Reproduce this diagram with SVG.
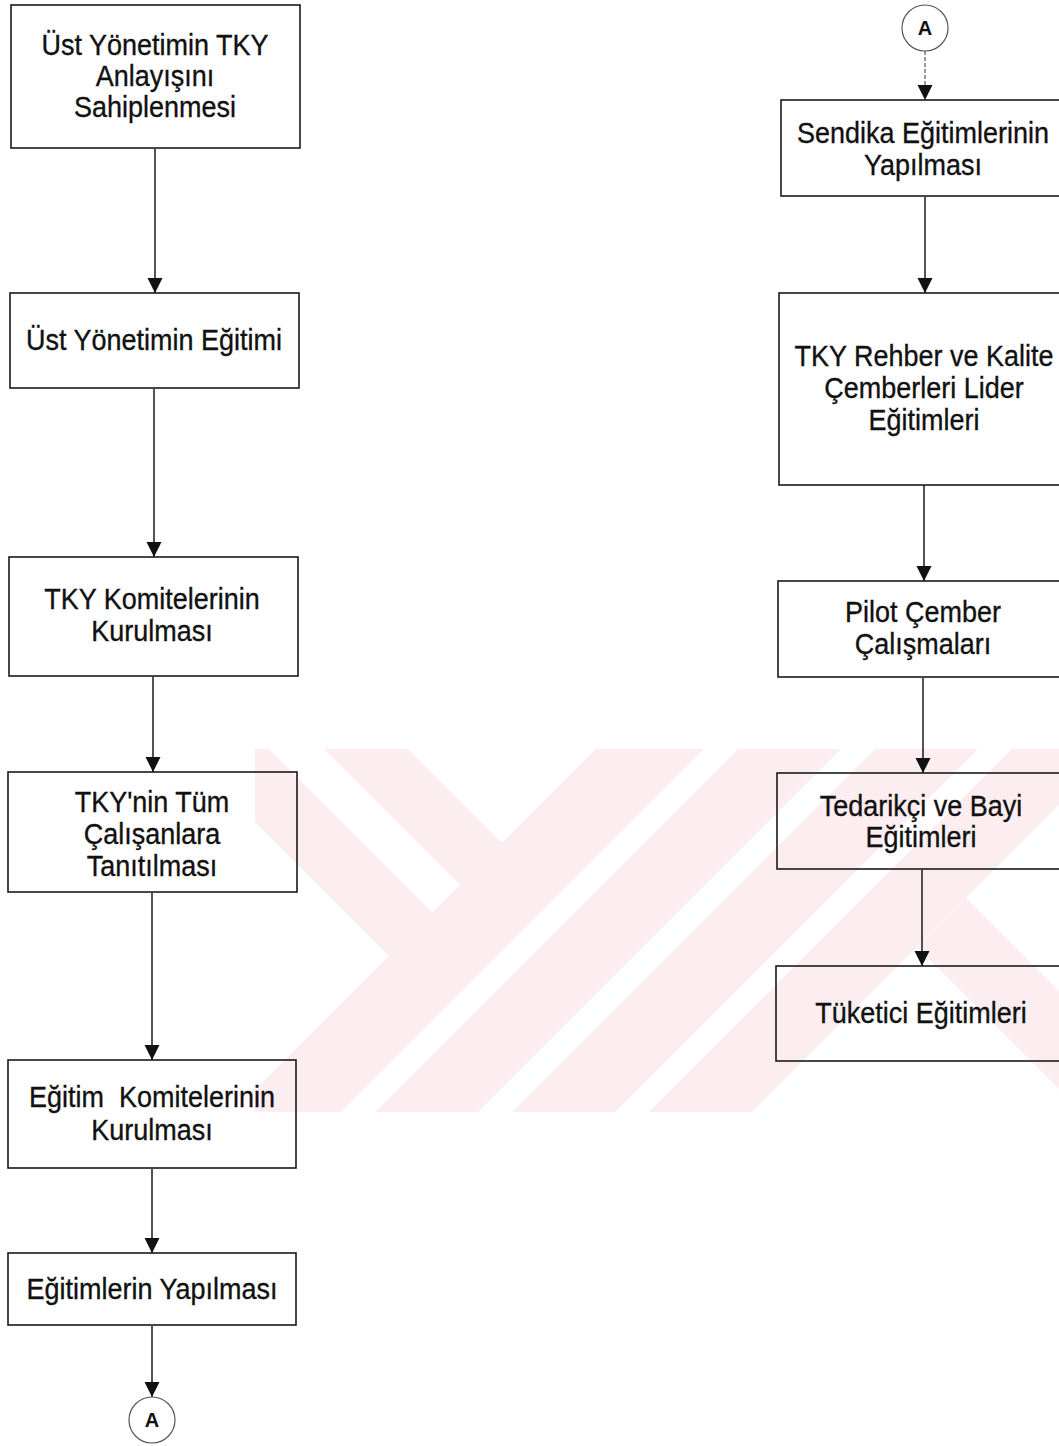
<svg xmlns="http://www.w3.org/2000/svg" width="1059" height="1446" viewBox="0 0 1059 1446">
  <defs>
    <style>
      .box { fill: none; stroke: #1a1a1a; stroke-width: 1.6; }
      .lbl { font-family: "Liberation Sans", Arial, sans-serif; font-size: 29px; fill: #111; stroke: #111; stroke-width: 0.35; text-anchor: middle; }
      .conn { font-family: "Liberation Sans", Arial, sans-serif; font-size: 20px; font-weight: bold; fill: #111; text-anchor: middle; }
      .edge { stroke: #1a1a1a; stroke-width: 1.5; fill: none; marker-end: url(#arrow); }
      .dash { stroke: #555; stroke-width: 1.2; stroke-dasharray: 4 2; }
      .ring { fill: none; stroke: #555; stroke-width: 1.2; }
      .mark { fill: #fcedf0; }
    </style>
    <marker id="arrow" markerUnits="userSpaceOnUse" markerWidth="16" markerHeight="16" refX="15" refY="7.5" orient="auto">
      <path d="M0,0 L15,7.5 L0,15 z" fill="#111"/>
    </marker>
    <clipPath id="markClip">
      <rect x="255" y="749" width="804" height="363"/>
    </clipPath>
  </defs>
  <rect width="1059" height="1446" fill="#fff"/>

  <!-- pale background emblem: diagonal bands -->
  <g id="emblem" clip-path="url(#markClip)">
    <polygon class="mark" points="596,749 704,749 341,1112 233,1112"/>
    <polygon class="mark" points="324,749 408,749 529.5,870.5 487.5,912.5"/>
    <polygon class="mark" points="182,749 269,749 460,940 416.5,983.5"/>
    <polygon class="mark" points="738,749 841,749 478,1112 375,1112"/>
    <polygon class="mark" points="875,749 978,749 615,1112 512,1112"/>
    <polygon class="mark" points="1012,749 1115,749 752,1112 649,1112"/>
    <polygon class="mark" points="966,898 1059,991 1059,1089 917,947"/>
  </g>

  <!-- connectors -->
  <g id="connectors">
    <line class="edge" x1="155" y1="149" x2="155" y2="293"/>
    <line class="edge" x1="154" y1="389" x2="154" y2="557"/>
    <line class="edge" x1="153" y1="677" x2="153" y2="772"/>
    <line class="edge" x1="152" y1="893" x2="152" y2="1060"/>
    <line class="edge" x1="152" y1="1169" x2="152" y2="1253"/>
    <line class="edge" x1="152" y1="1326" x2="152" y2="1397"/>
    <line class="edge dash" x1="925" y1="51" x2="925" y2="100"/>
    <line class="edge" x1="925" y1="197" x2="925" y2="293"/>
    <line class="edge" x1="924" y1="485" x2="924" y2="581"/>
    <line class="edge" x1="923" y1="678" x2="923" y2="773"/>
    <line class="edge" x1="922" y1="870" x2="922" y2="966"/>
  </g>

  <!-- left column -->
  <g id="n1">
    <rect class="box" x="11" y="5" width="289" height="143"/>
    <g transform="translate(155 0) scale(0.93 1)">
      <text class="lbl" x="0" y="55">Üst Yönetimin TKY</text>
      <text class="lbl" x="0" y="86">Anlayışını</text>
      <text class="lbl" x="0" y="117">Sahiplenmesi</text>
    </g>
  </g>
  <g id="n2">
    <rect class="box" x="10" y="293" width="289" height="95"/>
    <g transform="translate(154 0) scale(0.93 1)">
      <text class="lbl" x="0" y="350">Üst Yönetimin Eğitimi</text>
    </g>
  </g>
  <g id="n3">
    <rect class="box" x="9" y="557" width="289" height="119"/>
    <g transform="translate(152 0) scale(0.93 1)">
      <text class="lbl" x="0" y="609">TKY Komitelerinin</text>
      <text class="lbl" x="0" y="641">Kurulması</text>
    </g>
  </g>
  <g id="n4">
    <rect class="box" x="8" y="772" width="289" height="120"/>
    <g transform="translate(152 0) scale(0.93 1)">
      <text class="lbl" x="0" y="812">TKY'nin Tüm</text>
      <text class="lbl" x="0" y="844">Çalışanlara</text>
      <text class="lbl" x="0" y="876">Tanıtılması</text>
    </g>
  </g>
  <g id="n5">
    <rect class="box" x="8" y="1060" width="288" height="108"/>
    <g transform="translate(152 0) scale(0.93 1)">
      <text class="lbl" x="0" y="1107" xml:space="preserve">Eğitim  Komitelerinin</text>
      <text class="lbl" x="0" y="1140">Kurulması</text>
    </g>
  </g>
  <g id="n6">
    <rect class="box" x="8" y="1253" width="288" height="72"/>
    <g transform="translate(152 0) scale(0.93 1)">
      <text class="lbl" x="0" y="1299">Eğitimlerin Yapılması</text>
    </g>
  </g>
  <g id="ca1">
    <circle class="ring" cx="152" cy="1420" r="23"/>
    <text class="conn" x="152" y="1427">A</text>
  </g>

  <!-- right column -->
  <g id="ca2">
    <circle class="ring" cx="925" cy="28" r="23"/>
    <text class="conn" x="925" y="35">A</text>
  </g>
  <g id="m1">
    <rect class="box" x="781" y="100" width="290" height="96"/>
    <g transform="translate(923 0) scale(0.93 1)">
      <text class="lbl" x="0" y="143">Sendika Eğitimlerinin</text>
      <text class="lbl" x="0" y="175">Yapılması</text>
    </g>
  </g>
  <g id="m2">
    <rect class="box" x="779" y="293" width="292" height="192"/>
    <g transform="translate(924 0) scale(0.93 1)">
      <text class="lbl" x="0" y="366">TKY Rehber ve Kalite</text>
      <text class="lbl" x="0" y="398">Çemberleri Lider</text>
      <text class="lbl" x="0" y="430">Eğitimleri</text>
    </g>
  </g>
  <g id="m3">
    <rect class="box" x="778" y="581" width="293" height="96"/>
    <g transform="translate(923 0) scale(0.93 1)">
      <text class="lbl" x="0" y="622">Pilot Çember</text>
      <text class="lbl" x="0" y="654">Çalışmaları</text>
    </g>
  </g>
  <g id="m4">
    <rect class="box" x="777" y="773" width="294" height="96"/>
    <g transform="translate(921 0) scale(0.93 1)">
      <text class="lbl" x="0" y="816">Tedarikçi ve Bayi</text>
      <text class="lbl" x="0" y="847">Eğitimleri</text>
    </g>
  </g>
  <g id="m5">
    <rect class="box" x="776" y="966" width="295" height="95"/>
    <g transform="translate(921 0) scale(0.93 1)">
      <text class="lbl" x="0" y="1023">Tüketici Eğitimleri</text>
    </g>
  </g>
</svg>
